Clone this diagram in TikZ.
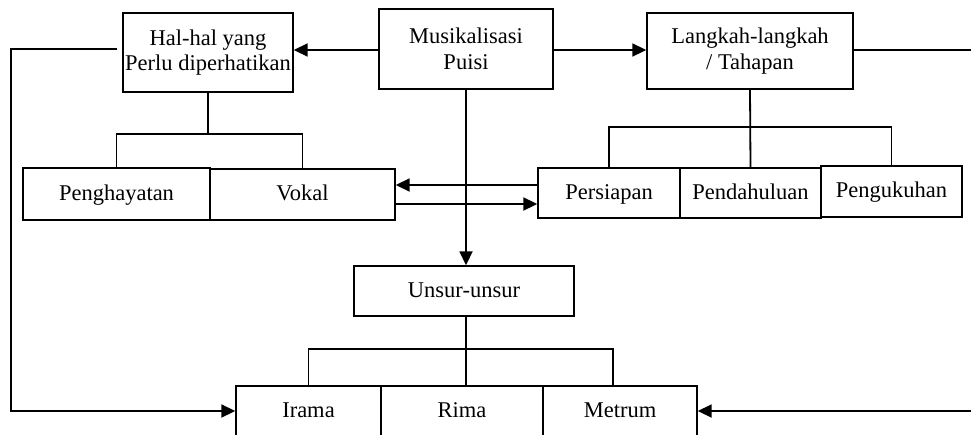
\documentclass[tikz,border=0pt]{standalone}
\usepackage{fontspec}
\setmainfont{Liberation Serif}
\usetikzlibrary{arrows.meta}
\begin{document}
\begin{tikzpicture}[x=1pt,y=-1pt,
  box/.style={draw,line width=1.4pt,rectangle,inner sep=0pt,align=center,
    font=\fontsize{22.5}{25.5}\selectfont},
  single/.style={box,text height=16pt,text depth=4pt},
  conn/.style={line width=1.8pt},
  arr/.style={conn,-{Triangle[length=14pt,width=13pt]}}]
\useasboundingbox (0,0) rectangle (971,434);
% top row
\node[box,minimum width=170pt,minimum height=79pt] (hal) at (208,52.5) {Hal-hal yang\\Perlu diperhatikan};
\node[box,minimum width=174pt,minimum height=80pt] (mus) at (466,49) {Musikalisasi\\Puisi};
\node[box,minimum width=206pt,minimum height=76pt] (lang) at (750,51) {Langkah-langkah\\/ Tahapan};
% second row
\node[single,minimum width=187pt,minimum height=52pt] (peng) at (116.5,194) {Penghayatan};
\node[single,minimum width=185pt,minimum height=51pt] (vok) at (302.5,194.5) {Vokal};
\node[single,minimum width=142pt,minimum height=50pt] (pers) at (609,193) {Persiapan};
\node[single,minimum width=141pt,minimum height=50pt] (pend) at (750.5,193) {Pendahuluan};
\node[single,minimum width=141pt,minimum height=51pt] (pengk) at (891.5,191.5) {Pengukuhan};
% elements
\node[single,minimum width=220pt,minimum height=50pt] (uns) at (464,291) {Unsur-unsur};
\node[single,minimum width=145pt,minimum height=50pt] (ira) at (308.5,411) {Irama};
\node[single,minimum width=162pt,minimum height=50pt] (rim) at (462,411) {Rima};
\node[single,minimum width=154pt,minimum height=50pt] (met) at (620,411) {Metrum};
% branch of Hal-hal
\draw[conn] (hal.south) -- ++(0,41) coordinate (hb);
\draw[conn] (peng.north) |- (hb) -| (vok.north);
% branch of Langkah-langkah
\draw[conn] (lang.south) -- (pend.north);
\draw[conn] (pers.north) |- ([yshift=40pt]pend.north) -| (pengk.north);
% branch of Unsur-unsur
\draw[conn] ([xshift=2pt]uns.south) -- ++(0,32) coordinate (ub);
\draw[conn] (ira.north) |- (ub) -| ([xshift=-7pt]met.north);
\draw[conn] (ub) -- ([xshift=4pt]rim.north);
% arrows from the title
\draw[arr] (mus.west |- 0,50) -- (hal.east |- 0,50);
\draw[arr] (mus.east |- 0,50) -- (lang.west |- 0,50);
\draw[arr] (mus.south) -- (mus.south |- uns.north);
% arrows between Vokal and Persiapan
\draw[arr] (pers.west |- 0,185) -- (vok.east |- 0,185);
\draw[arr] (vok.east |- 0,204) -- (pers.west |- 0,204);
% side routes down to the elements
\coordinate (lc) at (11,411);
\coordinate (rc) at (975,411);
\draw[arr] ([xshift=-5pt]hal.west |- 0,49) -| (lc) -- (ira.west);
\draw[arr] (lang.east |- 0,50) -| (rc) -- (met.east);
\end{tikzpicture}
\end{document}
